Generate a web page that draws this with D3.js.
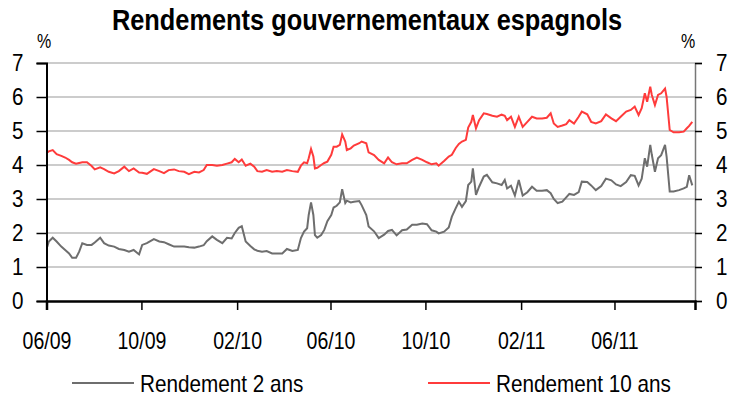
<!DOCTYPE html>
<html>
<head>
<meta charset="utf-8">
<script src="https://cdn.jsdelivr.net/npm/d3@7"></script>
<style>
  html, body { margin: 0; padding: 0; background: #fff; }
  svg { display: block; }
  text { font-family: "Liberation Sans", Arial, sans-serif; fill: #000; }
</style>
</head>
<body>
<svg id="chart" width="729" height="399"></svg>
<script>
// Observation dates shared by both series
const dates = [
  "2009-06-02","2009-06-04","2009-06-09","2009-06-14","2009-06-20","2009-06-25","2009-06-30",
  "2009-07-04","2009-07-09","2009-07-13","2009-07-17","2009-07-23","2009-07-29","2009-08-02",
  "2009-08-09","2009-08-14","2009-08-20","2009-08-27","2009-09-02","2009-09-09","2009-09-15",
  "2009-09-21","2009-09-28","2009-10-02","2009-10-08","2009-10-17","2009-10-24","2009-10-30",
  "2009-11-05","2009-11-12","2009-11-18","2009-11-25","2009-12-01","2009-12-08","2009-12-14",
  "2009-12-20","2009-12-24","2009-12-31","2010-01-06","2010-01-13","2010-01-19","2010-01-25",
  "2010-01-29","2010-02-03","2010-02-07","2010-02-12","2010-02-18","2010-02-23","2010-02-27",
  "2010-03-05","2010-03-11","2010-03-18","2010-03-24","2010-03-31","2010-04-06","2010-04-13",
  "2010-04-20","2010-04-24","2010-04-28","2010-05-02","2010-05-04","2010-05-07","2010-05-10",
  "2010-05-12","2010-05-15","2010-05-20","2010-05-24","2010-05-28","2010-06-02","2010-06-05",
  "2010-06-09","2010-06-13","2010-06-16","2010-06-20","2010-06-22","2010-06-27","2010-07-01",
  "2010-07-08","2010-07-11","2010-07-17","2010-07-20","2010-07-27","2010-08-02","2010-08-09",
  "2010-08-14","2010-08-19","2010-08-25","2010-09-01","2010-09-07","2010-09-14","2010-09-20",
  "2010-09-27","2010-10-03","2010-10-09","2010-10-15","2010-10-18","2010-10-25","2010-10-31",
  "2010-11-04","2010-11-09","2010-11-13","2010-11-17","2010-11-22","2010-11-25","2010-11-29",
  "2010-12-01","2010-12-05","2010-12-09","2010-12-15","2010-12-19","2010-12-26","2011-01-01",
  "2011-01-07","2011-01-11","2011-01-14","2011-01-19","2011-01-24","2011-01-29","2011-02-03",
  "2011-02-09","2011-02-15","2011-02-21","2011-02-28","2011-03-06","2011-03-11","2011-03-15",
  "2011-03-20","2011-03-26","2011-03-31","2011-04-04","2011-04-10","2011-04-16","2011-04-20",
  "2011-04-27","2011-05-02","2011-05-08","2011-05-15","2011-05-21","2011-05-28","2011-06-03",
  "2011-06-09","2011-06-16","2011-06-22","2011-06-27","2011-07-02","2011-07-06","2011-07-10",
  "2011-07-13","2011-07-17","2011-07-19","2011-07-23","2011-07-27","2011-07-31","2011-08-05",
  "2011-08-07","2011-08-11","2011-08-16","2011-08-23","2011-08-29","2011-09-02","2011-09-05",
  "2011-09-09"
];

// Rendement 2 ans (%)
const yield2y = [
  1.60,1.75,1.86,1.75,1.60,1.50,1.40,
  1.27,1.27,1.45,1.70,1.65,1.65,1.72,
  1.86,1.70,1.63,1.60,1.53,1.50,1.45,
  1.50,1.37,1.65,1.70,1.82,1.75,1.73,
  1.67,1.60,1.60,1.60,1.58,1.57,1.60,
  1.64,1.76,1.90,1.80,1.70,1.86,1.84,
  2.00,2.15,2.20,1.75,1.62,1.52,1.48,
  1.45,1.47,1.40,1.40,1.40,1.53,1.47,
  1.50,1.85,2.04,2.14,2.53,2.90,2.53,
  1.94,1.86,1.94,2.09,2.35,2.53,2.75,
  2.80,2.90,3.29,2.88,2.95,2.90,2.92,
  2.94,2.82,2.53,2.19,2.05,1.85,1.95,
  2.06,2.09,1.93,2.08,2.10,2.24,2.24,
  2.28,2.26,2.08,2.04,1.99,2.04,2.16,
  2.48,2.73,2.92,2.77,2.94,3.41,3.51,
  3.90,3.12,3.36,3.66,3.71,3.49,3.46,
  3.41,3.56,3.31,3.39,3.10,3.56,3.10,
  3.20,3.36,3.24,3.24,3.26,3.17,3.00,
  2.88,2.92,3.05,3.15,3.12,3.20,3.51,
  3.50,3.40,3.26,3.38,3.60,3.55,3.43,
  3.38,3.50,3.70,3.68,3.40,3.60,4.20,
  3.95,4.59,4.30,3.80,4.20,4.29,4.59,
  4.25,3.22,3.22,3.26,3.31,3.36,3.70,
  3.40
];

// Rendement 10 ans (%)
const yield10y = [
  4.37,4.40,4.44,4.32,4.27,4.22,4.15,
  4.08,4.04,4.06,4.08,4.08,3.97,3.87,
  3.93,3.88,3.80,3.75,3.82,3.95,3.82,
  3.90,3.78,3.77,3.74,3.88,3.82,3.76,
  3.85,3.87,3.82,3.80,3.73,3.80,3.78,
  3.85,4.00,4.00,3.98,4.00,4.04,4.08,
  4.18,4.08,4.16,3.98,4.04,3.95,3.82,
  3.80,3.85,3.80,3.82,3.80,3.85,3.82,
  3.80,3.98,4.08,4.05,4.20,4.47,4.25,
  3.90,3.92,4.00,4.06,4.10,4.30,4.54,
  4.54,4.59,4.90,4.69,4.44,4.49,4.57,
  4.64,4.69,4.64,4.37,4.29,4.15,4.05,
  4.22,4.08,4.02,4.05,4.05,4.15,4.22,
  4.15,4.08,4.02,4.05,3.98,4.12,4.25,
  4.30,4.50,4.62,4.69,4.74,5.10,5.27,
  5.47,5.08,5.32,5.52,5.50,5.45,5.42,
  5.48,5.45,5.32,5.42,5.12,5.42,5.12,
  5.27,5.42,5.37,5.37,5.39,5.52,5.22,
  5.12,5.16,5.20,5.32,5.22,5.42,5.57,
  5.49,5.27,5.22,5.29,5.49,5.37,5.29,
  5.42,5.57,5.62,5.72,5.47,5.67,6.11,
  5.86,6.30,6.06,5.76,6.06,6.11,6.25,
  6.00,5.03,4.96,4.96,4.98,5.08,5.15,
  5.27
];

const tickDates = ["2009-06-01","2009-10-01","2010-02-01","2010-06-01","2010-10-01","2011-02-01","2011-06-01"];
const yTicks = [0, 1, 2, 3, 4, 5, 6, 7];

const seriesNames = ["Rendement 2 ans", "Rendement 10 ans"];
const seriesColors = ["#6e6e6e", "#ff3b3b"];

const parse = d3.utcParse("%Y-%m-%d");
const fmt = d3.utcFormat("%m/%y");

const svg = d3.select("#chart");
const plot = { left: 46.5, right: 695, top: 63, bottom: 301 };

// Squeeze text horizontally around its own anchor x for a narrow face
function narrow(sel, k) {
  sel.each(function () {
    const t = d3.select(this);
    const x0 = +t.attr("x") || 0;
    t.attr("transform", `translate(${x0},0) scale(${k},1) translate(${-x0},0)`);
  });
}

const x = d3.scaleUtc()
  .domain([parse("2009-06-01"), new Date(Date.UTC(2011, 8, 12, 12))])
  .range([plot.left, plot.right]);
const y = d3.scaleLinear().domain([0, 7]).range([plot.bottom, plot.top]);

// Title
svg.append("text")
  .attr("x", 367).attr("y", 30)
  .attr("text-anchor", "middle")
  .style("font-size", "29px").style("font-weight", "bold")
  .text("Rendements gouvernementaux espagnols")
  .call(narrow, 0.875);

// Horizontal grid
svg.append("g")
  .selectAll("line")
  .data(yTicks.filter(v => v > 0))
  .join("line")
  .attr("x1", plot.left).attr("x2", plot.right)
  .attr("y1", d => y(d)).attr("y2", d => y(d))
  .attr("stroke", "#cccccc").attr("stroke-width", 2);

// Series
const line = d3.line().x((d, i) => x(parse(dates[i]))).y(d => y(d));
[yield2y, yield10y].forEach((vals, k) => {
  svg.append("path")
    .datum(vals)
    .attr("d", line)
    .attr("fill", "none")
    .attr("stroke", seriesColors[k])
    .attr("stroke-width", 2)
    .attr("stroke-linejoin", "miter");
});

// Left axis
const yl = svg.append("g")
  .attr("transform", `translate(${plot.left},0)`)
  .call(d3.axisLeft(y).tickValues(yTicks).tickSize(10).tickPadding(13).tickFormat(d3.format("d")));
yl.select(".domain").attr("stroke", "#000").attr("stroke-width", 2);
yl.selectAll(".tick line").attr("stroke", "#000").attr("stroke-width", 1.5);
yl.selectAll(".tick text").style("font-size", "24px").attr("font-family", null).call(narrow, 0.86);

// Right axis
const yr = svg.append("g")
  .attr("transform", `translate(${plot.right},0)`)
  .call(d3.axisRight(y).tickValues(yTicks).tickSize(7).tickPadding(14).tickFormat(d3.format("d")));
yr.select(".domain").attr("stroke", "#777").attr("stroke-width", 1.5);
yr.selectAll(".tick line").attr("stroke", "#000").attr("stroke-width", 1.5);
yr.selectAll(".tick text").style("font-size", "24px").attr("font-family", null).call(narrow, 0.86);

// Bottom axis
const xa = svg.append("g")
  .attr("transform", `translate(0,${plot.bottom})`)
  .call(d3.axisBottom(x).tickValues(tickDates.map(parse)).tickSize(9).tickPadding(23).tickFormat(fmt));
xa.select(".domain").attr("stroke", "#000").attr("stroke-width", 2.5);
xa.selectAll(".tick line").attr("stroke", "#000").attr("stroke-width", 1.5);
xa.selectAll(".tick text").style("font-size", "23px").attr("font-family", null).call(narrow, 0.85);

// Unit labels
svg.append("text").attr("x", 44).attr("y", 48).attr("text-anchor", "middle")
  .style("font-size", "20px").text("%").call(narrow, 0.8);
svg.append("text").attr("x", 688).attr("y", 48).attr("text-anchor", "middle")
  .style("font-size", "20px").text("%").call(narrow, 0.8);

// Legend
const legendX = [72, 428];
seriesNames.forEach((name, k) => {
  const g = svg.append("g").attr("transform", `translate(${legendX[k]},383)`);
  g.append("line").attr("x1", 0).attr("x2", 62).attr("y1", 0).attr("y2", 0)
    .attr("stroke", seriesColors[k]).attr("stroke-width", 2);
  g.append("text").attr("x", 68).attr("y", 8.5).style("font-size", "23px").text(name).call(narrow, 0.9);
});
</script>
</body>
</html>
